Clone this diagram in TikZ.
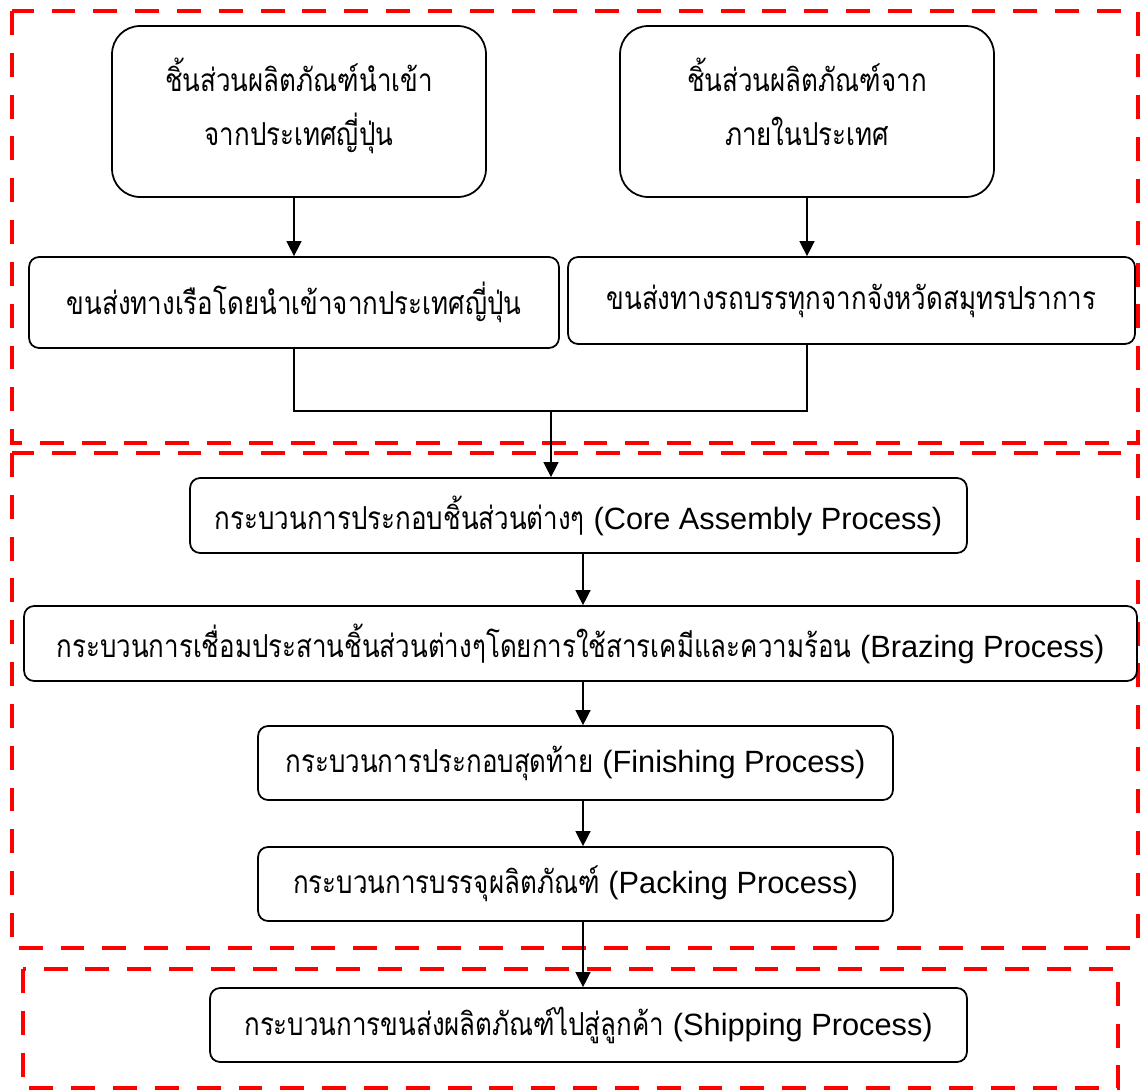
\documentclass[tikz,border=0pt]{standalone}
\usepackage{fontspec}
\setmainfont{Loma}[Script=Thai, FakeStretch=0.82]
\newfontfamily\latinfont{Liberation Sans}
\usetikzlibrary{arrows.meta}
\tikzset{
  stagebox/.style={draw, line width=1pt, rounded corners=0.2cm, align=center, inner sep=0pt},
  sourcebox/.style={stagebox, rounded corners=0.56cm},
  flow/.style={line width=0.8pt, -{Triangle[length=8.5pt, width=8.5pt]}},
  joinline/.style={line width=0.8pt},
  zone/.style={draw=red, line width=2.8pt, dash pattern=on 13.6pt off 10.2pt},
}
\newcommand{\eng}[1]{{\latinfont\fontsize{17.5}{21}\selectfont #1}}

\begin{document}
\begin{tikzpicture}[x=0.02cm, y=-0.02cm, font=\fontsize{18}{21.6}\selectfont]
      \useasboundingbox (0,0) rectangle (1141,1089);

      % zones
      \draw[zone] (12,11) rectangle (1138,443);
      \draw[zone] (12,453) rectangle (1138,948);
      \draw[zone] (23,969) rectangle (1118,1088);

      % sources
      \node[sourcebox, minimum width=7.48cm, minimum height=3.42cm, text depth=0.4cm] (japan) at (299,111.5)
        {ชิ้นส่วนผลิตภัณฑ์นำเข้า\\[0.33cm] จากประเทศญี่ปุ่น};
      \node[sourcebox, minimum width=7.48cm, minimum height=3.42cm, text depth=0.4cm] (local) at (807,111.5)
        {ชิ้นส่วนผลิตภัณฑ์จาก\\[0.33cm] ภายในประเทศ};

      % transport
      \node[stagebox, minimum width=10.6cm, minimum height=1.82cm] (ship) at (294,302.5)
        {ขนส่งทางเรือโดยนำเข้าจากประเทศญี่ปุ่น};
      \node[stagebox, minimum width=11.34cm, minimum height=1.74cm] (truck) at (851.5,300.5)
        {ขนส่งทางรถบรรทุกจากจังหวัดสมุทรปราการ};

      % process chain
      \node[stagebox, minimum width=15.54cm, minimum height=1.5cm] (core) at (578.5,515.5)
        {กระบวนการประกอบชิ้นส่วนต่างๆ \eng{(Core Assembly Process)}};
      \node[stagebox, minimum width=22.26cm, minimum height=1.5cm] (brazing) at (580.5,643.5)
        {กระบวนการเชื่อมประสานชิ้นส่วนต่างๆโดยการใช้สารเคมีและความร้อน \eng{(Brazing Process)}};
      \node[stagebox, minimum width=12.7cm, minimum height=1.48cm] (finish) at (575.5,763)
        {กระบวนการประกอบสุดท้าย \eng{(Finishing Process)}};
      \node[stagebox, minimum width=12.7cm, minimum height=1.48cm] (pack) at (575.5,884)
        {กระบวนการบรรจุผลิตภัณฑ์ \eng{(Packing Process)}};
      \node[stagebox, minimum width=15.14cm, minimum height=1.48cm] (shipping) at (588.5,1025)
        {กระบวนการขนส่งผลิตภัณฑ์ไปสู่ลูกค้า \eng{(Shipping Process)}};

      \coordinate (merge) at (551,411);
      \coordinate (spine) at (583,0);

      \draw[flow] (ship.north |- japan.south) -- (ship.north);
      \draw[flow] (local.south) -- (local.south |- truck.north);
      \draw[joinline] (ship.south) -- (ship.south |- merge) -- (merge -| local.south) -- (local.south |- truck.south);
      \draw[flow] (merge) -- (merge |- core.north);
      \draw[flow] (core.south -| spine) -- (brazing.north -| spine);
      \draw[flow] (brazing.south -| spine) -- (finish.north -| spine);
      \draw[flow] (finish.south -| spine) -- (pack.north -| spine);
      \draw[flow] (pack.south -| spine) -- (shipping.north -| spine);
    \end{tikzpicture}
\end{document}
